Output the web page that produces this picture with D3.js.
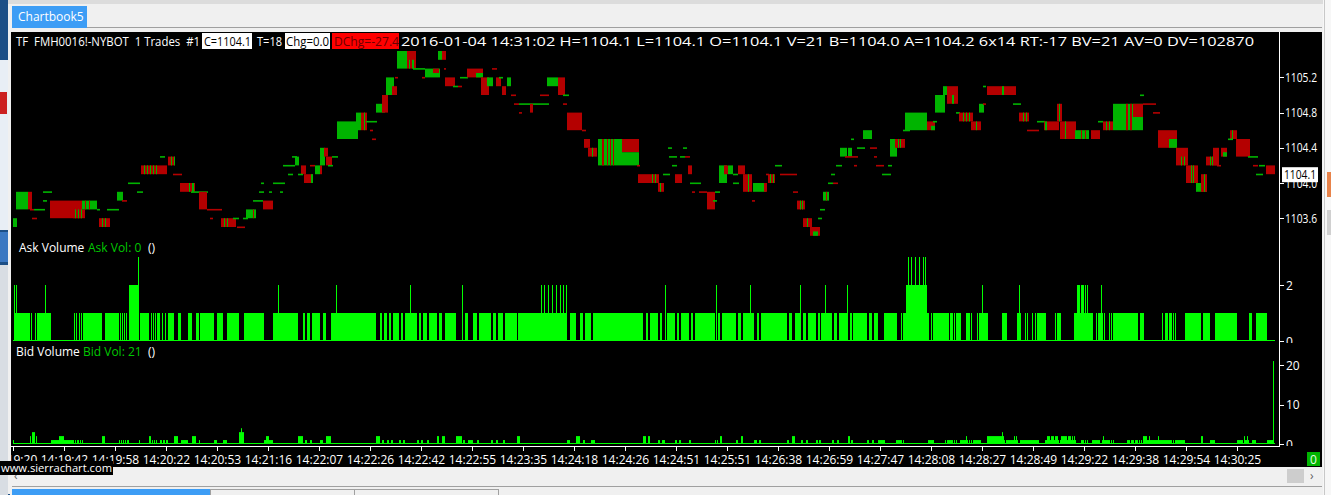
<!DOCTYPE html>
<html><head><meta charset="utf-8">
<script src="https://cdn.jsdelivr.net/npm/d3@7/dist/d3.min.js"></script>
<style>body{margin:0;background:#f0f0f0;overflow:hidden}svg{display:block}text{white-space:pre}</style>
</head><body><svg id="c" width="1331" height="495"></svg>
<script>
// ---------------- DATA ----------------
const symbolText = "TF  FMH0016!-NYBOT  1 Trades  #1";
const closeText = "C=1104.1";
const tradesText = "T=18";
const chgText = "Chg=0.0";
const dchgText = "DChg=-27.4";
const infoText = "2016-01-04 14:31:02 H=1104.1 L=1104.1 O=1104.1 V=21 B=1104.0 A=1104.2 6x14 RT:-17 BV=21 AV=0 DV=102870";
const priceTicks = [1105.2, 1104.8, 1104.4, 1104.0, 1103.6];
const lastPrice = 1104.1;
const askTicks = [2, 0];
const bidTicks = [20, 10, 0];
const timeLabels = ["14:19:20","14:19:42","14:19:58","14:20:22","14:20:53","14:21:16","14:22:07","14:22:26","14:22:42","14:22:55","14:23:35","14:24:18","14:24:26","14:24:51","14:25:51","14:26:38","14:26:59","14:27:47","14:28:08","14:28:27","14:28:49","14:29:22","14:29:38","14:29:54","14:30:25"];
const barsPerTimeLabel = 51;
const barCount = 1262;
// price runs: [first bar, number of bars, open, close, dash colour]
const priceRuns = [
[0,4,1103.5,1103.6],[3,12,1103.7,1103.9],[15,4,1103.9,1103.7],[17,4,1103.7,1103.7,'r'],[21,11,1103.7,1103.7],[19,5,1103.6,1103.6,'r'],
[30,9,1103.9,1103.9],[30,4,1103.8,1103.8],[37,32,1103.8,1103.6],[60,12,1103.7,1103.6],[62,1,1103.6,1103.7],[65,1,1103.6,1103.7],[68,1,1103.6,1103.7],
[69,15,1103.7,1103.8],[72,1,1103.8,1103.7],[76,1,1103.8,1103.7],[84,3,1103.7,1103.7],[86,11,1103.6,1103.5],[89,1,1103.5,1103.6],[92,1,1103.5,1103.6],
[94,12,1103.7,1103.7],[104,6,1103.8,1103.9],[109,5,1103.8,1103.8,'r'],[115,12,1104.0,1104.0],[124,6,1103.9,1103.9],
[128,22,1104.2,1104.1],[131,1,1104.1,1104.2],[134,1,1104.1,1104.2],[137,1,1104.1,1104.2],[140,1,1104.1,1104.2],[143,1,1104.1,1104.2],
[147,5,1104.3,1104.3],[150,4,1104.2,1104.1],[155,7,1104.3,1104.2],[158,1,1104.2,1104.3],[161,1,1104.2,1104.3],[160,9,1104.1,1104.1,'r'],
[167,15,1104.0,1103.9],[176,1,1103.9,1104.0],[179,2,1103.9,1104.0],[178,17,1103.9,1103.9],[186,8,1103.9,1103.7],[194,15,1103.7,1103.7,'r'],
[197,3,1103.6,1103.6,'r'],[208,15,1103.6,1103.5],[211,1,1103.5,1103.6],[214,1,1103.5,1103.6],[220,6,1103.6,1103.6],[224,8,1103.5,1103.5,'r'],
[233,10,1103.6,1103.7],[240,1,1103.7,1103.6],[230,5,1103.6,1103.6],[240,10,1103.8,1103.8],[246,5,1103.9,1103.9],[250,10,1103.8,1103.7],
[248,3,1104.0,1104.0],[256,3,1103.9,1103.9],[260,12,1104.0,1104.0],[267,3,1103.9,1103.9],[270,12,1104.2,1104.2],[275,5,1104.1,1104.1],
[279,5,1104.3,1104.3],[282,4,1104.2,1104.3],[288,5,1104.2,1104.1],[285,5,1104.1,1104.1],[291,9,1104.1,1104.0],[298,2,1104.0,1104.1],
[297,5,1104.2,1104.2,'r'],[302,5,1104.1,1104.2],[307,2,1104.2,1104.1],[307,5,1104.2,1104.4],[311,4,1104.4,1104.3],[313,6,1104.3,1104.2],
[315,5,1104.2,1104.2],[319,6,1104.3,1104.3],[324,21,1104.5,1104.7],[343,5,1104.6,1104.8],[348,6,1104.8,1104.6],[351,1,1104.6,1104.8],
[353,11,1104.7,1104.7],[357,3,1104.6,1104.6,'r'],[359,4,1104.5,1104.5,'r'],[363,9,1104.8,1104.9],[369,6,1105.0,1104.8],[373,8,1105.0,1105.2],
[379,5,1105.1,1105.0],[382,3,1105.2,1105.2,'r'],[384,10,1105.3,1105.5],[394,9,1105.5,1105.3],[396,1,1105.3,1105.4],[399,2,1105.3,1105.4],
[400,12,1105.3,1105.3],[412,15,1105.2,1105.3],[420,6,1105.3,1105.25],[409,3,1105.2,1105.2,'r'],[425,4,1105.4,1105.5],[429,4,1105.5,1105.4],
[431,2,1105.3,1105.3,'r'],[432,10,1105.2,1105.1],[440,5,1105.1,1105.1],[445,4,1105.1,1105.1,'r'],[447,8,1105.2,1105.2],
[454,16,1105.3,1105.2],[463,7,1105.2,1105.25],[468,8,1105.2,1105.0],[474,6,1105.1,1105.2],[479,5,1105.3,1105.3,'r'],[483,5,1105.2,1105.1],
[486,4,1105.2,1105.2],[489,4,1105.1,1105.0],[494,4,1105.1,1105.2],[498,5,1105.0,1105.0,'r'],[501,5,1104.9,1104.9,'r'],[506,30,1104.9,1104.9],
[517,3,1104.9,1104.8],[506,3,1104.8,1104.8,'r'],[527,9,1105.0,1105.0,'r'],[534,11,1105.1,1105.2],[545,7,1105.2,1105.0],[550,6,1105.0,1105.0],
[550,4,1104.9,1104.9,'r'],[554,15,1104.8,1104.6],[569,4,1104.6,1104.6,'r'],[571,6,1104.5,1104.4],[575,9,1104.4,1104.3],[579,1,1104.3,1104.4],
[585,24,1104.2,1104.5],[589,2,1104.5,1104.2],[594,1,1104.5,1104.2],[597,1,1104.5,1104.2],[600,1,1104.5,1104.2],
[609,17,1104.5,1104.35],[609,17,1104.2,1104.35],[624,3,1104.2,1104.2,'r'],[625,12,1104.1,1104.0],[637,9,1104.1,1104.0],[639,1,1104.0,1104.1],[642,1,1104.0,1104.1],
[645,6,1104.0,1103.9],[647,1,1103.9,1104.0],[650,7,1104.1,1104.1],[655,4,1104.4,1104.4],[656,8,1104.3,1104.3],[659,5,1104.2,1104.2],
[662,7,1104.1,1104.0],[667,5,1104.3,1104.3],[672,5,1104.3,1104.3,'r'],[670,4,1104.4,1104.4],[675,4,1104.2,1104.1],[677,11,1104.0,1104.0],
[679,3,1103.9,1103.9,'r'],[686,8,1103.9,1103.9,'r'],[694,8,1103.9,1103.7],[702,5,1103.9,1103.9],[700,4,1103.8,1103.8],[706,8,1104.0,1104.2],
[711,4,1104.2,1104.1],[715,5,1104.1,1104.2],[720,5,1104.1,1104.1],[725,7,1104.2,1104.1],[720,6,1104.0,1104.0],[730,9,1104.1,1103.9],[735,1,1103.9,1104.1],
[739,3,1103.8,1103.8,'r'],[740,13,1103.9,1104.0],[751,3,1104.0,1103.9],[753,3,1104.1,1104.1,'r'],[755,7,1104.1,1104.0],[757,1,1104.0,1104.1],[760,1,1104.0,1104.1],
[762,7,1104.2,1104.2],[767,17,1104.1,1104.1,'r'],[780,5,1103.9,1103.9,'r'],[784,8,1103.8,1103.7],[787,1,1103.7,1103.8],[789,1,1103.7,1103.8],
[790,9,1103.6,1103.5],[794,1,1103.5,1103.6],[797,10,1103.5,1103.4],[800,5,1103.4,1103.45],[805,4,1103.6,1103.6],[807,5,1103.7,1103.7],
[810,6,1103.8,1103.9],[813,1,1103.9,1103.8],[815,5,1104.0,1104.0],[820,5,1104.0,1104.0,'r'],[818,4,1104.1,1104.1],[823,6,1104.2,1104.2],
[827,7,1104.3,1104.4],[835,4,1104.3,1104.4],[832,13,1104.3,1104.3,'r'],[841,3,1104.2,1104.2,'r'],[838,3,1104.5,1104.5],[844,8,1104.4,1104.4],
[857,7,1104.4,1104.4,'r'],[861,3,1104.3,1104.3,'r'],[850,9,1104.5,1104.6],[863,8,1104.2,1104.2,'r'],[869,9,1104.1,1104.1],[875,4,1104.2,1104.2],
[877,7,1104.3,1104.5],[882,10,1104.5,1104.4],[885,1,1104.4,1104.5],[887,1,1104.4,1104.5],[890,7,1104.6,1104.6],[892,22,1104.6,1104.8],
[914,8,1104.7,1104.6],[918,4,1104.6,1104.65],[920,4,1104.7,1104.7],[922,10,1104.8,1105.0],[930,4,1105.0,1105.1],[934,11,1105.1,1104.9],[939,2,1104.9,1105.0],
[943,4,1104.8,1104.8],[946,14,1104.8,1104.7],[950,1,1104.7,1104.8],[953,1,1104.7,1104.8],[956,1,1104.7,1104.8],[958,10,1104.7,1104.6],[963,1,1104.6,1104.7],
[966,5,1104.8,1104.9],[970,3,1104.9,1104.9,'r'],[970,3,1105.1,1105.1],[974,29,1105.1,1105.0],[989,2,1105.0,1105.1],[1000,8,1104.9,1104.9],
[1006,10,1104.8,1104.7],[1010,1,1104.7,1104.8],[1013,1,1104.7,1104.8],[1014,12,1104.6,1104.6,'r'],[1024,8,1104.7,1104.7],[1031,15,1104.7,1104.6],[1032,2,1104.6,1104.7],
[1044,5,1104.9,1104.7],[1046,1,1104.7,1104.9],[1047,16,1104.7,1104.5],[1052,1,1104.5,1104.7],[1062,14,1104.5,1104.6],[1068,1,1104.6,1104.5],[1072,1,1104.6,1104.5],
[1078,9,1104.6,1104.5],[1085,5,1104.7,1104.7],[1090,10,1104.7,1104.6],[1093,1,1104.6,1104.7],[1096,1,1104.6,1104.7],[1100,30,1104.6,1104.9],
[1113,2,1104.9,1104.6],[1117,2,1104.9,1104.6],[1120,10,1104.9,1104.75],[1130,13,1104.9,1104.9,'r'],[1127,4,1105.0,1105.0],[1140,7,1104.8,1104.8,'r'],
[1145,19,1104.6,1104.4],[1156,8,1104.4,1104.5],[1163,12,1104.4,1104.2],[1168,1,1104.2,1104.3],[1171,1,1104.2,1104.3],[1173,12,1104.2,1104.0],[1178,1,1104.0,1104.2],[1180,1,1104.0,1104.2],
[1183,11,1103.9,1104.0],[1189,1,1104.0,1103.9],[1188,6,1104.1,1103.9],[1191,1,1103.9,1104.1],[1193,13,1104.3,1104.2],[1197,1,1104.2,1104.3],[1199,1,1104.2,1104.3],
[1200,6,1104.4,1104.2],[1204,4,1104.2,1104.2,'r'],[1208,6,1104.4,1104.3],[1210,4,1104.3,1104.35],[1217,7,1104.6,1104.5],[1219,1,1104.5,1104.6],
[1215,5,1104.5,1104.5],[1223,14,1104.5,1104.3],[1235,10,1104.3,1104.3],[1240,5,1104.2,1104.2,'r'],[1243,7,1104.1,1104.1],[1246,6,1104.2,1104.2],
[1253,9,1104.2,1104.1]
];
// ask volume runs: [first bar, number of bars, volume]
const askRuns = [
[1,16,1],[1,1,2],[3,1,2],[18,1,1],[22,1,1],[24,14,1],[32,1,2],[61,1,1],[63,1,1],[66,1,1],[68,1,1],[70,18,1],[88,1,1],[92,13,1],
[105,1,1],[107,1,1],[109,1,1],[111,1,1],[113,1,1],[116,10,2],[125,1,3],[127,9,1],[138,1,1],[140,1,1],[142,1,1],[144,3,1],[149,1,1],[152,1,1],
[155,6,1],[165,3,1],[175,4,1],[183,3,1],[187,14,1],[204,6,1],[214,12,1],[231,20,1],[260,25,1],[265,1,2],
[290,2,1],[294,3,1],[299,8,1],[310,3,1],[318,45,1],[323,1,2],[367,2,1],[371,3,1],[376,2,1],[380,6,1],[388,2,1],[392,12,1],[397,1,2],
[406,2,1],[410,4,1],[416,8,1],[426,3,1],[432,11,1],[449,1,2],[452,3,1],[460,4,1],[466,12,1],[480,3,1],[485,5,1],[492,12,1],[505,2,1],
[507,47,1],[528,1,2],[531,1,2],[535,1,2],[539,1,2],[543,1,2],[547,1,2],[550,1,2],[553,1,2],
[557,6,1],[567,3,1],[572,6,1],[580,2,1],[582,48,1],[633,2,1],[637,8,1],[647,2,1],[652,1,2],[654,8,1],[664,2,1],[668,8,1],[678,2,1],
[682,20,1],[703,1,2],[705,2,1],[709,14,1],[725,3,1],[730,11,1],[737,1,2],[744,2,1],[748,26,1],[776,3,1],[782,6,1],[787,1,2],[790,3,1],
[795,8,1],[805,2,1],[808,11,1],[812,1,2],[821,3,1],[826,9,1],[834,1,2],[837,2,1],[840,14,1],[856,3,1],[861,4,1],
[871,13,1],[888,1,1],[890,26,1],[893,21,2],[895,1,3],[898,1,3],[902,1,3],[906,1,3],[910,1,3],[912,1,3],[918,1,1],[920,16,1],[937,3,1],
[941,1,1],[943,5,1],[953,4,1],[958,1,1],[964,1,1],[966,9,1],[969,1,2],[989,5,1],[1004,4,1],[1006,1,2],[1012,1,1],[1014,1,1],[1019,1,1],
[1022,1,1],[1024,9,1],[1042,1,1],[1044,4,1],[1061,19,1],[1064,3,2],[1068,3,2],[1072,1,2],[1074,1,2],[1083,1,1],[1085,5,1],[1088,1,2],
[1091,1,1],[1096,1,1],[1098,1,1],[1100,25,1],[1127,4,1],[1149,1,1],[1152,3,1],[1156,3,1],[1160,1,1],[1162,1,1],
[1172,16,1],[1190,7,1],[1202,22,1],[1236,3,1],[1243,7,1],[1250,3,1],[1253,1,1]
];
// bid volume runs: [first bar, number of bars, volume]
const bidRuns = [
[0,1,1],[17,1,2],[19,3,3],[23,1,2],[38,8,1],[46,5,2],[51,10,1],[62,1,1],[64,2,1],[67,1,1],[69,1,1],[89,3,2],[106,1,1],[108,1,1],[110,1,1],
[112,1,1],[114,2,1],[126,1,1],[136,2,2],[139,1,1],[141,1,1],[143,1,1],[147,2,1],[150,2,1],[153,2,1],[161,4,2],[168,7,1],[179,4,2],[186,1,1],
[201,3,1],[210,4,1],[226,5,3],[228,1,4],[251,9,1],[253,3,2],[285,5,2],[292,2,1],[297,2,1],[307,3,1],[313,5,2],[363,4,2],[369,2,1],[374,2,1],
[378,2,1],[386,2,1],[390,2,1],[404,2,1],[408,2,1],[414,2,1],[424,2,2],[429,3,2],[443,6,2],[450,2,1],[455,5,1],[464,2,1],[478,2,1],[483,2,1],
[490,2,1],[504,3,2],[554,3,1],[563,4,2],[570,2,1],[578,4,1],[630,3,2],[635,2,2],[645,2,1],[649,3,1],[662,2,1],[666,2,1],[676,2,1],[702,1,1],
[704,1,1],[707,2,2],[723,2,1],[728,2,2],[741,3,1],[746,2,1],[774,2,1],[779,3,2],[788,2,1],[793,2,1],[803,2,1],[806,2,1],[819,2,1],[824,2,1],
[835,2,2],[838,2,1],[854,2,1],[859,2,1],[865,2,1],
[867,5,1],[883,5,1],[888,1,1],[890,1,1],[915,5,1],[920,1,1],[932,1,1],[934,6,1],[941,1,1],[943,1,1],[947,8,1],[953,1,2],[956,1,1],[958,1,1],
[960,8,1],[974,17,2],[989,1,3],[991,1,1],[993,12,1],[1001,1,2],[1003,1,2],[1007,19,1],[1032,14,1],[1034,3,2],[1038,3,2],[1042,3,2],
[1047,16,1],[1048,6,2],[1055,3,2],[1059,1,2],[1061,1,2],[1068,3,1],[1072,1,1],[1074,1,1],[1079,8,1],[1089,3,1],[1090,1,2],[1092,4,1],
[1096,1,1],[1098,1,1],[1100,1,1],[1114,3,1],[1118,3,1],[1122,3,1],[1126,1,1],[1128,1,1],[1130,26,1],[1130,4,2],[1136,1,2],[1145,1,2],
[1156,3,1],[1160,1,1],[1162,6,1],[1168,4,1],[1188,2,2],[1197,5,1],[1224,6,1],[1231,1,2],[1232,2,1],[1234,1,2],[1235,1,1],[1239,4,1],
[1254,6,1],[1260,1,21]
];

// ---------------- DRAW ----------------
const svg = d3.select('#c');
const GREEN = '#00b400', RED = '#b40000', VOL = '#00ff00';
const FONT = "'Open Sans', 'Noto Sans', sans-serif";

// window chrome
svg.append('rect').attr('width',1331).attr('height',495).attr('fill','#f0f0f0');
svg.append('rect').attr('x',0).attr('y',0).attr('width',10).attr('height',495).attr('fill','#1d4f86');
svg.append('rect').attr('x',0).attr('y',60).attr('width',8).attr('height',170).attr('fill','#e8eef5');
svg.append('rect').attr('x',0).attr('y',92).attr('width',7).attr('height',22).attr('fill','#cc2020');
svg.append('rect').attr('x',0).attr('y',232).attr('width',8).attr('height',30).attr('fill','#3b78c2');
svg.append('rect').attr('x',0).attr('y',265).attr('width',8).attr('height',230).attr('fill','#d8dde3');
svg.append('rect').attr('x',8).attr('y',0).attr('width',1323).attr('height',4).attr('fill','#dcdcdc');
svg.append('rect').attr('x',8).attr('y',4).attr('width',1315).attr('height',490).attr('fill','#f0f0f0');
svg.append('line').attr('x1',87).attr('x2',1322).attr('y1',27.5).attr('y2',27.5).attr('stroke','#a0a0a0');
svg.append('rect').attr('x',12).attr('y',6).attr('width',75).attr('height',22).attr('fill','#3d9df5');
svg.append('text').attr('x',18).attr('y',21).attr('fill','#fff').attr('font-family',FONT).attr('font-size',12).text('Chartbook5');
svg.append('rect').attr('x',1323).attr('y',0).attr('width',8).attr('height',495).attr('fill','#f7f7f7');
svg.append('line').attr('x1',1324.5).attr('x2',1324.5).attr('y1',0).attr('y2',495).attr('stroke','#c8c8c8');
svg.append('rect').attr('x',1327).attr('y',172).attr('width',4).attr('height',25).attr('fill','#e8834a');
svg.append('rect').attr('x',1327).attr('y',210).attr('width',4).attr('height',25).attr('fill','#d0d0d0');
// bottom strip
svg.append('rect').attr('x',1287).attr('y',469).attr('width',17).attr('height',14).attr('fill','#cdcdcd');
svg.append('text').attr('x',1310).attr('y',480).attr('fill','#606060').attr('font-family',FONT).attr('font-size',12).text('›');
svg.append('text').attr('x',14).attr('y',480).attr('fill','#606060').attr('font-family',FONT).attr('font-size',12).text('‹');
svg.append('line').attr('x1',12).attr('x2',1322).attr('y1',486.5).attr('y2',486.5).attr('stroke','#a0a0a0');
svg.append('rect').attr('x',12).attr('y',489).attr('width',198).attr('height',6).attr('fill','#3d9df5');
svg.append('rect').attr('x',210.5).attr('y',489.5).attr('width',144).attr('height',6).attr('fill','#f0f0f0').attr('stroke','#a0a0a0');
svg.append('rect').attr('x',354.5).attr('y',489.5).attr('width',144).attr('height',6).attr('fill','#f0f0f0').attr('stroke','#a0a0a0');

// chart black area
svg.append('rect').attr('x',11).attr('y',32).attr('width',1311).attr('height',435).attr('fill','#000');

// scales
const x = d3.scaleLinear().domain([0, 1266]).range([13, 1279]);
const yP = d3.scaleLinear().domain([1103.6, 1105.2]).range([218.2, 77.4]);
const yA = d3.scaleLinear().domain([0, 2]).range([341, 285]);
const yB = d3.scaleLinear().domain([0, 20]).range([444, 365]);

const defs = svg.append('defs');
defs.append('clipPath').attr('id','cp').append('rect').attr('x',11).attr('y',50).attr('width',1268).attr('height',190);
defs.append('clipPath').attr('id','ca').append('rect').attr('x',11).attr('y',238).attr('width',1311).attr('height',105);
defs.append('clipPath').attr('id','cb').append('rect').attr('x',11).attr('y',343).attr('width',1311).attr('height',103);
defs.append('clipPath').attr('id','ct').append('rect').attr('x',11).attr('y',447).attr('width',1268).attr('height',20);

// header
const hdr = svg.append('g').attr('font-family',FONT).attr('font-size',12);
function htext(t, x0, x1, fill, bg, bgx0, bgx1){
  if(bg) hdr.append('rect').attr('x',bgx0).attr('y',33).attr('width',bgx1-bgx0).attr('height',16).attr('fill',bg);
  hdr.append('text').attr('x',x0).attr('y',45.5).attr('fill',fill).attr('textLength',x1-x0).attr('lengthAdjust','spacingAndGlyphs').text(t);
}
htext(symbolText,16,200,'#fff');
htext(closeText,204,251,'#000','#fff',202,252);
htext(tradesText,257,282,'#fff');
htext(chgText,286,329,'#000','#fff',285,330);
htext(dchgText,334,399,'#6a0000','#ff0000',332,399);
htext(infoText,401,1254,'#fff');

// price bars
const gp = svg.append('g').attr('clip-path','url(#cp)');
gp.selectAll('rect').data(priceRuns).join('rect')
  .attr('x', d => x(d[0]))
  .attr('width', d => x(d[0]+d[1]) - x(d[0]))
  .attr('y', d => d[2]===d[3] ? yP(d[2]) - 0.5 : yP(Math.max(d[2],d[3])))
  .attr('height', d => d[2]===d[3] ? 1.6 : Math.abs(yP(d[2]) - yP(d[3])))
  .attr('fill', d => d[2]===d[3] ? (d[4]==='r' ? RED : GREEN) : (d[3] > d[2] ? GREEN : RED));

// price axis
svg.append('line').attr('x1',1279.5).attr('x2',1279.5).attr('y1',32).attr('y2',447).attr('stroke','#fff');
const pax = svg.append('g').attr('font-family',FONT).attr('font-size',12).attr('fill','#fff');
priceTicks.forEach(p => {
  pax.append('line').attr('x1',1280).attr('x2',1284).attr('y1',Math.round(yP(p))+0.5).attr('y2',Math.round(yP(p))+0.5).attr('stroke','#fff');
  pax.append('text').attr('x',1285).attr('y',yP(p)+4.5).attr('textLength',32).attr('lengthAdjust','spacingAndGlyphs').text(d3.format('.1f')(p));
});
pax.append('rect').attr('x',1282).attr('y',yP(lastPrice)-7).attr('width',36).attr('height',15).attr('fill','#fff');
pax.append('text').attr('x',1284).attr('y',yP(lastPrice)+4.5).attr('fill','#000').attr('textLength',32).attr('lengthAdjust','spacingAndGlyphs').text(d3.format('.1f')(lastPrice));

// ask volume
const ga = svg.append('g').attr('clip-path','url(#ca)');
ga.append('rect').attr('x',x(0)).attr('y',yA(0)-1).attr('width',x(barCount)-x(0)).attr('height',1).attr('fill',VOL);
ga.selectAll('rect.v').data(askRuns).join('rect').attr('class','v')
  .attr('x', d => x(d[0])).attr('width', d => x(d[0]+d[1]) - x(d[0]))
  .attr('y', d => yA(d[2])).attr('height', d => yA(0) - yA(d[2])).attr('fill', VOL);
askTicks.forEach(v => {
  ga.append('line').attr('x1',1280).attr('x2',1284).attr('y1',yA(v)+0.5).attr('y2',yA(v)+0.5).attr('stroke','#fff');
  ga.append('text').attr('x',1286).attr('y',yA(v)+4.5).attr('fill','#fff').attr('font-family',FONT).attr('font-size',12).text(v);
});
const la = svg.append('g').attr('font-family',FONT).attr('font-size',12);
la.append('text').attr('x',19).attr('y',251.5).attr('fill','#fff').text('Ask Volume');
la.append('text').attr('x',88).attr('y',251.5).attr('fill','#00c800').text('Ask Vol: 0');
la.append('text').attr('x',148).attr('y',251.5).attr('fill','#fff').text('()');

// bid volume
const gb = svg.append('g').attr('clip-path','url(#cb)');
gb.append('rect').attr('x',x(0)).attr('y',yB(0)-1).attr('width',x(barCount)-x(0)).attr('height',1).attr('fill',VOL);
gb.selectAll('rect.v').data(bidRuns).join('rect').attr('class','v')
  .attr('x', d => x(d[0])).attr('width', d => x(d[0]+d[1]) - x(d[0]))
  .attr('y', d => yB(d[2])).attr('height', d => yB(0) - yB(d[2])).attr('fill', VOL);
bidTicks.forEach(v => {
  gb.append('line').attr('x1',1280).attr('x2',1284).attr('y1',Math.round(yB(v))+0.5).attr('y2',Math.round(yB(v))+0.5).attr('stroke','#fff');
  gb.append('text').attr('x',1286).attr('y',yB(v)+4.5).attr('fill','#fff').attr('font-family',FONT).attr('font-size',12).text(v);
});
la.append('text').attr('x',16).attr('y',356).attr('fill','#fff').text('Bid Volume');
la.append('text').attr('x',83).attr('y',356).attr('fill','#00c800').text('Bid Vol: 21');
la.append('text').attr('x',148).attr('y',356).attr('fill','#fff').text('()');

// time axis
svg.append('line').attr('x1',11).attr('x2',1280).attr('y1',446.5).attr('y2',446.5).attr('stroke','#fff');
const gt = svg.append('g').attr('clip-path','url(#ct)').attr('font-family',FONT).attr('font-size',12);
timeLabels.forEach((t,i) => {
  const tx = Math.round(x(i*barsPerTimeLabel)) + 0.5;
  gt.append('line').attr('x1',tx).attr('x2',tx).attr('y1',447).attr('y2',451).attr('stroke','#fff');
  gt.append('text').attr('x',tx).attr('y',463.5).attr('text-anchor','middle').attr('fill','#fff').text(t);
});
// bottom-right green box
svg.append('rect').attr('x',1307).attr('y',452).attr('width',13).attr('height',14).attr('fill','#00b400');
svg.append('text').attr('x',1313.5).attr('y',463.5).attr('text-anchor','middle').attr('fill','#e0ffe0').attr('font-family',FONT).attr('font-size',12).text('0');
// watermark
svg.append('rect').attr('x',0).attr('y',461).attr('width',113).attr('height',14).attr('fill','#000');
svg.append('text').attr('x',1).attr('y',472).attr('fill','#fff').attr('font-family',FONT).attr('font-size',11.5).attr('textLength',111).attr('lengthAdjust','spacingAndGlyphs').text('www.sierrachart.com');
</script></body></html>
